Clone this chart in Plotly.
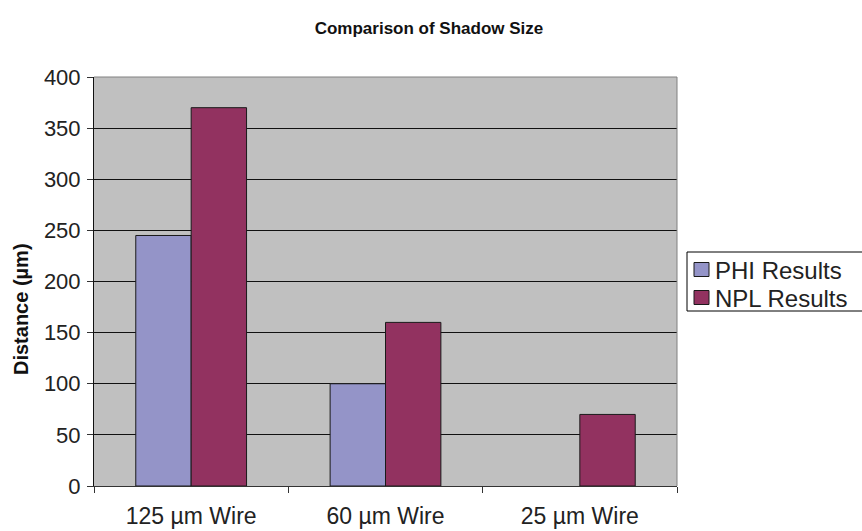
import plotly.graph_objects as go

categories = ["125 µm Wire", "60 µm Wire", "25 µm Wire"]
series_names = ["PHI Results", "NPL Results"]
phi_results = [245, 100, None]
npl_results = [370, 160, 70]
y_ticks = [0, 50, 100, 150, 200, 250, 300, 350, 400]

series_values = [phi_results, npl_results]
series_colors = ["#9494C8", "#923260"]

FONT = "Liberation Sans, Arial, sans-serif"
TEXT = "#222222"

fig = go.Figure()
for name, vals, col in zip(series_names, series_values, series_colors):
    fig.add_trace(go.Bar(
        name=name, x=categories, y=vals,
        marker=dict(color=col, line=dict(color="#1a1a1a", width=1)),
        showlegend=False,
    ))

W, H = 862, 531
L, R, T, B = 94, 677, 77, 486

fig.update_layout(
    width=W, height=H,
    margin=dict(l=L, r=W - R, t=T, b=H - B, pad=0, autoexpand=False),
    paper_bgcolor="white",
    plot_bgcolor="#C0C0C0",
    barmode="group",
    bargap=0.43,
    bargroupgap=0,
    font=dict(family=FONT, color=TEXT),
    title=dict(
        text="<b>Comparison of Shadow Size</b>",
        x=429 / W, xanchor="center",
        y=1 - 28 / H, yanchor="middle",
        font=dict(size=17, color="#111111"),
    ),
)

fig.update_xaxes(
    type="category",
    tickson="boundaries",
    ticks="outside", ticklen=6, tickcolor="#333333", tickwidth=1,
    showline=True, linecolor="#333333", linewidth=1,
    showgrid=False,
    tickfont=dict(size=23, color=TEXT),
    ticklabelstandoff=9,
    automargin=False,
)
fig.update_yaxes(
    range=[0, 400],
    tickvals=y_ticks,
    ticks="outside", ticklen=6, tickcolor="#333333", tickwidth=1,
    showline=True, linecolor="#111111", linewidth=1,
    showgrid=True, gridcolor="#111111", gridwidth=1,
    zeroline=False,
    tickfont=dict(size=22, color=TEXT),
    ticklabelstandoff=2,
    automargin=False,
)

# axis title, placed in pixels on the left margin
fig.add_annotation(
    xref="paper", yref="paper",
    x=(21 - L) / (R - L), y=(B - 309) / (B - T),
    xanchor="center", yanchor="middle",
    text="<b>Distance (µm)</b>", textangle=-90, showarrow=False,
    font=dict(size=20, color="#111111"),
)

# light border on the top and right edges of the plot area
fig.add_shape(type="line", xref="paper", yref="paper", x0=0, x1=1, y0=1, y1=1,
              line=dict(color="#808080", width=1))
fig.add_shape(type="line", xref="paper", yref="paper", x0=1, x1=1, y0=0, y1=1,
              line=dict(color="#808080", width=1))

# legend box with colour swatches
def px_x(v):
    return (v - L) / (R - L)

def px_y(v):
    return (B - v) / (B - T)

fig.add_shape(type="rect", xref="paper", yref="paper",
              x0=px_x(687), x1=px_x(875), y0=px_y(252), y1=px_y(311),
              line=dict(color="black", width=1), fillcolor="white", layer="above")
for i, (name, col) in enumerate(zip(series_names, series_colors)):
    cy = 269.5 + i * 28
    fig.add_shape(type="rect", xref="paper", yref="paper",
                  x0=px_x(694), x1=px_x(709), y0=px_y(cy - 7), y1=px_y(cy + 7),
                  line=dict(color="#1a1a1a", width=1), fillcolor=col, layer="above")
    fig.add_annotation(xref="paper", yref="paper", x=px_x(713), y=px_y(cy + 1),
                       xanchor="left", yanchor="middle", text=name, showarrow=False,
                       font=dict(size=24, color=TEXT))

fig.write_html("out.html")
